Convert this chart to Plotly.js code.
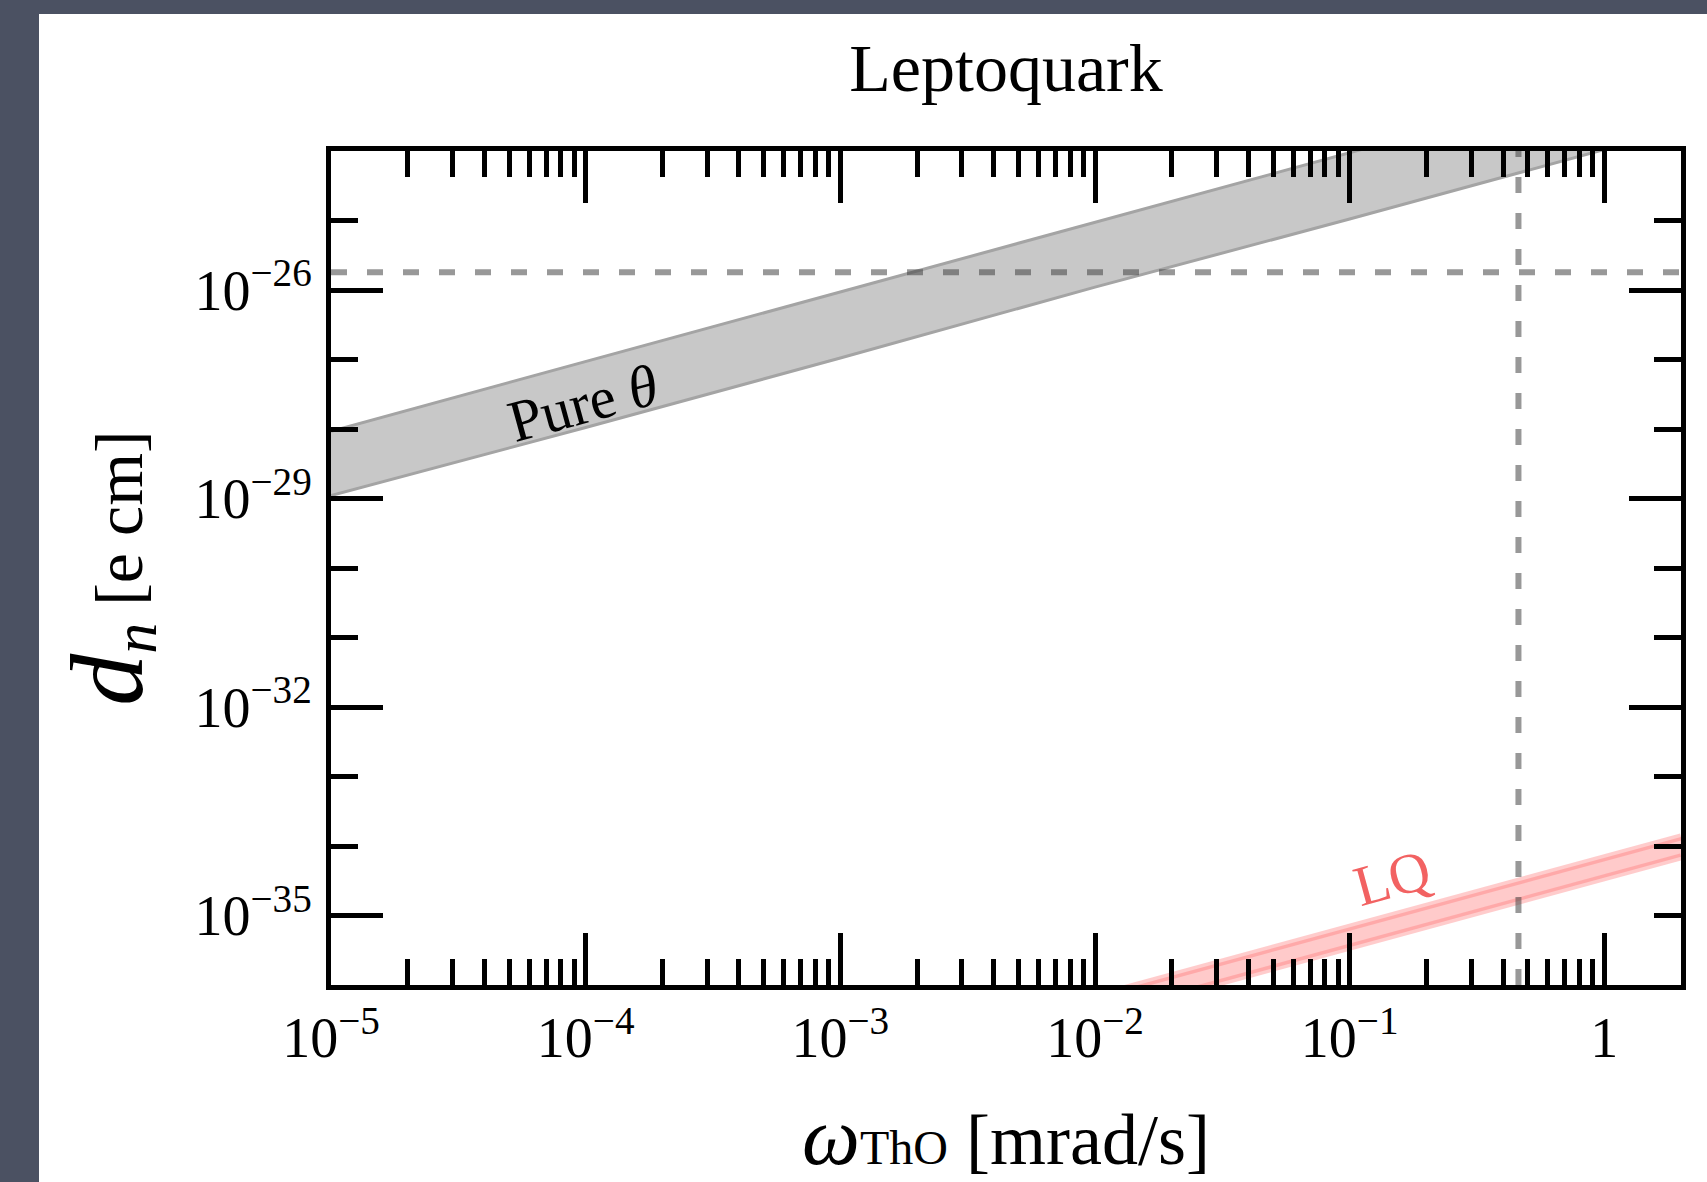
<!DOCTYPE html>
<html><head><meta charset="utf-8">
<script src="https://cdn.plot.ly/plotly-3.0.1.min.js"></script>
<style>
html,body{margin:0;padding:0;background:#4b5162;width:1707px;height:1182px;overflow:hidden;}
#panel{position:absolute;left:39px;top:14px;width:1668px;height:1168px;background:#fff;}
</style></head><body>
<div id="panel"></div>
<script>
// ---- data ----
const pureOmega = [1e-5, 1e-4, 1e-3, 1e-2, 1e-1, 1, 2];
const pureUpper = [9.3e-29, 9.3e-28, 9.3e-27, 9.3e-26, 9.3e-25, 9.3e-24, 1.9e-23];
const pureLower = [1.1e-29, 1.05e-28, 1.05e-27, 1.1e-26, 1.05e-25, 1.05e-24, 2.1e-24];
const lqOmega = [1e-2, 1e-1, 1, 2];
const lqUpper = [6.8e-37, 6.8e-36, 6.8e-35, 1.35e-34];
const lqLower = [3.5e-37, 3.5e-36, 3.5e-35, 7e-35];
const dnLimit = 1.8e-26;     // horizontal dashed line [e cm]
const omegaLimit = 0.46;     // vertical dashed line [mrad/s]
const xRangeVals = [1e-5, 2];
const yRangeVals = [1e-36, 1e-24];
const xTickVals = [1e-5, 1e-4, 1e-3, 1e-2, 1e-1, 1];
const xTickText = ['10<sup>−5</sup>', '10<sup>−4</sup>', '10<sup>−3</sup>', '10<sup>−2</sup>', '10<sup>−1</sup>', '1'];
const yTickVals = [1e-35, 1e-32, 1e-29, 1e-26];
const yTickText = ['10<sup>−35</sup>', '10<sup>−32</sup>', '10<sup>−29</sup>', '10<sup>−26</sup>'];
const yMinorVals = [1e-34, 1e-33, 1e-31, 1e-30, 1e-28, 1e-27, 1e-25];
const yRightMajorVals = [1e-32, 1e-29, 1e-26];
const yRightMinorVals = [1e-35, 1e-34, 1e-33, 1e-31, 1e-30, 1e-28, 1e-27, 1e-25];
const xMinorDecades = [-5, -4, -3, -2, -1, 0];
const xMinorDigits = [2, 3, 4, 5, 6, 7, 8, 9];
const xMinorVals = [];
xMinorDecades.forEach(d => xMinorDigits.forEach(k => { const v = k * Math.pow(10, d); if (v < xRangeVals[1]) xMinorVals.push(v); }));

const FONT = 'Liberation Serif, Times New Roman, serif';
const lg = v => Math.log10(v);

const traces = [
  {x: pureOmega, y: pureLower, mode: 'lines', line: {color: '#a4a4a4', width: 3}, hoverinfo: 'skip', showlegend: false},
  {x: pureOmega, y: pureUpper, mode: 'lines', fill: 'tonexty', fillcolor: '#c8c8c8', line: {color: '#a4a4a4', width: 3}, hoverinfo: 'skip', showlegend: false},
  {x: lqOmega, y: lqLower, mode: 'lines', line: {color: 'rgba(255,110,110,0.35)', width: 7}, hoverinfo: 'skip', showlegend: false},
  {x: lqOmega, y: lqUpper, mode: 'lines', fill: 'tonexty', fillcolor: 'rgba(255,150,150,0.5)', line: {color: 'rgba(255,110,110,0.35)', width: 7}, hoverinfo: 'skip', showlegend: false},
  {x: xRangeVals, y: [dnLimit, dnLimit], yaxis: 'y2', mode: 'lines', line: {color: 'rgba(68,68,68,0.55)', width: 6, dash: '16px,20px'}, hoverinfo: 'skip', showlegend: false},
  {x: [omegaLimit, omegaLimit], y: yRangeVals, yaxis: 'y2', mode: 'lines', line: {color: 'rgba(68,68,68,0.55)', width: 6, dash: '16px,20px'}, hoverinfo: 'skip', showlegend: false}
];

const tickFont = {family: FONT, size: 56, color: '#000'};
const layout = {
  width: 1668, height: 1168,
  margin: {l: 292, r: 26, t: 137, b: 197},
  paper_bgcolor: '#ffffff', plot_bgcolor: '#ffffff',
  showlegend: false,
  title: {text: 'Leptoquark', font: {family: FONT, size: 68, color: '#000'}, x: 0.5, xref: 'paper', xanchor: 'center', y: 0.934, yref: 'container', yanchor: 'bottom'},
  xaxis: {
    type: 'log', range: [lg(xRangeVals[0]), lg(xRangeVals[1])],
    showgrid: false, zeroline: false,
    showline: true, linewidth: 5, linecolor: '#000', mirror: 'ticks',
    ticks: 'inside', ticklen: 52, tickwidth: 5, tickcolor: '#000',
    tickmode: 'array', tickvals: xTickVals, ticktext: xTickText,
    tickfont: tickFont, ticklabelstandoff: 0,
    minor: {tickmode: 'array', tickvals: xMinorVals, ticks: 'inside', ticklen: 26, tickwidth: 5, tickcolor: '#000', showgrid: false},
    title: {text: '<span style="font-size:82px"><i>ω</i></span><span style="font-size:48px">ThO</span> [mrad/s]', font: {family: FONT, size: 72, color: '#000'}, standoff: 54}
  },
  yaxis: {
    type: 'log', range: [lg(yRangeVals[0]), lg(yRangeVals[1])],
    showgrid: false, zeroline: false,
    showline: true, linewidth: 5, linecolor: '#000', mirror: true,
    ticks: 'inside', ticklen: 52, tickwidth: 5, tickcolor: '#000',
    tickmode: 'array', tickvals: yTickVals, ticktext: yTickText,
    tickfont: tickFont, ticklabelstandoff: 3,
    minor: {tickmode: 'array', tickvals: yMinorVals, ticks: 'inside', ticklen: 27, tickwidth: 5, tickcolor: '#000', showgrid: false},
    title: {text: '<span style="font-size:104px"><i>d</i></span><sub><span style="font-size:62px"><i>n</i></span></sub> [e cm]', font: {family: FONT, size: 68, color: '#000'}, standoff: 31}
  },
  yaxis2: {
    type: 'log', range: [lg(yRangeVals[0]), lg(yRangeVals[1])],
    overlaying: 'y', side: 'right', anchor: 'x',
    showgrid: false, zeroline: false, showline: false, showticklabels: false,
    ticks: 'inside', ticklen: 52, tickwidth: 5, tickcolor: '#000',
    tickmode: 'array', tickvals: yRightMajorVals,
    minor: {tickmode: 'array', tickvals: yRightMinorVals, ticks: 'inside', ticklen: 27, tickwidth: 5, tickcolor: '#000', showgrid: false}
  },
  annotations: [
    {x: -4.01, y: -27.62, xref: 'x', yref: 'y', text: 'Pure <i>θ</i>', showarrow: false, textangle: -15.3,
     font: {family: FONT, size: 59, color: '#000'}},
    {x: -0.832, y: -34.45, xref: 'x', yref: 'y', text: 'LQ', showarrow: false, textangle: -15.3,
     font: {family: FONT, size: 57, color: '#f26262'}}
  ]
};

Plotly.newPlot('panel', traces, layout, {staticPlot: true, displayModeBar: false});
</script>
</body></html>
